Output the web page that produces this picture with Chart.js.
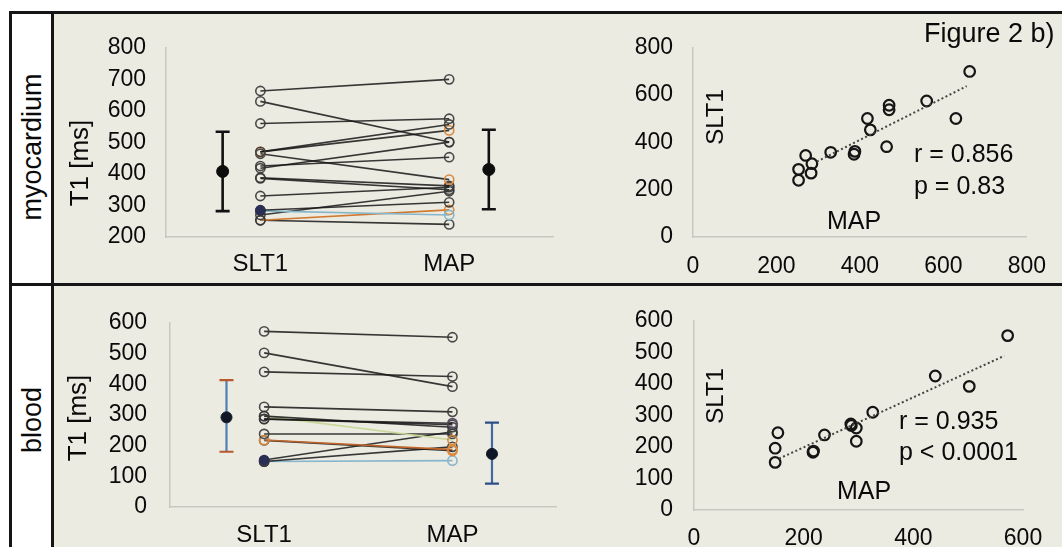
<!DOCTYPE html>
<html>
<head>
<meta charset="utf-8">
<script src="https://cdn.jsdelivr.net/npm/chart.js@4.4.1/dist/chart.umd.min.js"></script>
<style>
  body { margin: 0; width: 1062px; height: 547px; overflow: hidden; position: relative; background: #fff; font-family: "Liberation Sans", Arial, sans-serif; }
  .bg { position: absolute; left: 54px; top: 14px; right: 0; bottom: 0; background: #ecebe2; }
  .rule { position: absolute; background: #151515; }
  .rowlab { position: absolute; left: 32px; font-size: 27px; color: #0a0a0a; white-space: nowrap; transform: translate(-50%, -50%) rotate(-90deg); }
  canvas { position: absolute; }
</style>
</head>
<body>
<div class="bg"></div>
<div class="rule" style="left:9px;top:11px;width:3px;height:536px"></div>
<div class="rule" style="left:9px;top:11px;right:0;height:3px"></div>
<div class="rule" style="left:51px;top:11px;width:3px;height:536px"></div>
<div class="rule" style="left:9px;top:283px;right:0;height:3px"></div>
<div class="rowlab" style="top:147px">myocardium</div>
<div class="rowlab" style="top:420px">blood</div>

<canvas id="myoPairs" width="510" height="268" style="left:55px;top:14px"></canvas>
<canvas id="myoScatter" width="482" height="268" style="left:580px;top:14px"></canvas>
<canvas id="bloodPairs" width="510" height="261" style="left:55px;top:286px"></canvas>
<canvas id="bloodScatter" width="482" height="261" style="left:580px;top:286px"></canvas>

<script>
// values
const categories = ['SLT1', 'MAP'];
const myoTicks = [200, 300, 400, 500, 600, 700, 800];
const bloodTicks = [0, 100, 200, 300, 400, 500, 600];
const myoScatterTicks = [0, 200, 400, 600, 800];
const bloodScatterXTicks = [0, 200, 400, 600];

const myoSlt1 = [663, 630, 560, 470, 470, 464, 418, 425, 388, 386, 330, 285, 283, 270, 253, 253];
const myoMap  = [700, 501, 575, 557, 538, 382, 501, 453, 362, 350, 358, 310, 270, 345, 286, 240];
const myoMean = [408, 414];
const myoSdLow = [282, 288];
const myoSdHigh = [534, 540];
const myoTrendX = [297, 656];
const myoTrendY = [319, 638];
const myoStats = ['r = 0.856', 'p = 0.83'];

const bloodSlt1 = [572, 502, 440, 326, 286, 287, 296, 296, 238, 218, 217, 153, 148, 148];
const bloodMap  = [553, 392, 425, 310, 273, 268, 260, 218, 238, 187, 183, 245, 196, 151];
const bloodMean = [292, 173];
const bloodSdLow = [180, 76];
const bloodSdHigh = [413, 275];
const bloodTrendX = [155, 566];
const bloodTrendY = [163, 489];
const bloodStats = ['r = 0.935', 'p < 0.0001'];

// where things sit on the pair chart x axis
const catPos = [1, 2];
const meanPos = [0.8, 2.21];

const FONT = '"Liberation Sans", Arial, sans-serif';
const INK = '#0a0a0a';
const AXIS = '#c9c8c0';
const DARK = 'rgba(22,22,22,0.85)';
const PT = 'rgba(55,55,55,0.9)';
const ORANGE = '#d9893f';
const BLUE = '#86b6cc';
const NAVY = '#2b2f55';

Chart.defaults.font.family = FONT;
Chart.defaults.color = INK;

// per-pair colour overrides (index -> colour)
const myoStyle = {
    line: { 12: BLUE, 14: '#cf7a30' },
    left: { 4: ORANGE, 11: NAVY },
    leftFill: { 11: NAVY },
    right: { 4: ORANGE, 5: ORANGE, 12: BLUE, 14: ORANGE }
};
const bloodStyle = {
    line: { 7: '#c9d79a', 9: '#c0662a', 13: BLUE },
    left: { 9: ORANGE, 11: NAVY },
    leftFill: { 11: NAVY },
    right: { 4: '#5a4a6a', 7: ORANGE, 9: ORANGE, 10: ORANGE, 13: BLUE }
};

function whiskerPlugin(low, high, stem, cap, width) {
    return {
        id: 'whiskers',
        beforeDatasetsDraw(chart) {
            const { ctx, scales: { x, y } } = chart;
            ctx.save();
            ctx.lineWidth = width;
            low.forEach((lo, i) => {
                const px = x.getPixelForValue(meanPos[i]);
                const top = y.getPixelForValue(high[i]);
                const bot = y.getPixelForValue(lo);
                ctx.strokeStyle = stem[i];
                ctx.beginPath();
                ctx.moveTo(px, top);
                ctx.lineTo(px, bot);
                ctx.stroke();
                ctx.strokeStyle = cap[i];
                ctx.beginPath();
                ctx.moveTo(px - 7, top); ctx.lineTo(px + 7, top);
                ctx.moveTo(px - 7, bot); ctx.lineTo(px + 7, bot);
                ctx.stroke();
            });
            ctx.restore();
        }
    };
}

// free text: x/y are canvas pixels, y is the visual centre of capitals
function notesPlugin(notes) {
    return {
        id: 'notes',
        afterDraw(chart) {
            const ctx = chart.ctx;
            ctx.save();
            ctx.fillStyle = INK;
            ctx.textBaseline = 'alphabetic';
            notes.forEach(n => {
                ctx.save();
                ctx.font = n.size + 'px ' + FONT;
                ctx.translate(n.x, n.y);
                if (n.rotate) ctx.rotate(-Math.PI / 2);
                ctx.textAlign = n.align || 'left';
                ctx.fillText(n.text, 0, 0.36 * n.size);
                ctx.restore();
            });
            ctx.restore();
        }
    };
}

function fixedTicks(list) {
    return scale => { scale.ticks = list.map(v => ({ value: v })); };
}

function pairChart(id, slt1, map, style, yMin, yMax, ticks, box, extras) {
    const datasets = slt1.map((v, i) => ({
        type: 'line',
        data: [{ x: catPos[0], y: v }, { x: catPos[1], y: map[i] }],
        borderColor: style.line[i] || DARK,
        borderWidth: 1.6,
        pointRadius: 4.6,
        pointBorderWidth: 1.6,
        pointBorderColor: [style.left[i] || PT, style.right[i] || PT],
        pointBackgroundColor: [style.leftFill[i] || 'rgba(0,0,0,0)', 'rgba(0,0,0,0)']
    }));
    datasets.push({
        type: 'scatter',
        data: extras.mean.map((m, i) => ({ x: meanPos[i], y: m })),
        pointRadius: extras.meanRadius,
        pointBackgroundColor: extras.meanColor,
        pointBorderColor: extras.meanColor
    });

    return new Chart(document.getElementById(id), {
        data: { datasets },
        options: {
            responsive: false,
            animation: false,
            devicePixelRatio: 1,
            events: [],
            layout: { padding: { top: box.top, right: box.right, left: 0, bottom: 0 } },
            plugins: { legend: { display: false }, tooltip: { enabled: false } },
            scales: {
                x: {
                    type: 'linear', min: 0.5, max: 2.55,
                    afterBuildTicks: fixedTicks(catPos),
                    afterFit: s => { s.height = box.xh; },
                    ticks: { font: { size: 24 }, padding: box.xpad, callback: v => categories[catPos.indexOf(v)] },
                    grid: { display: false, drawTicks: false },
                    border: { color: AXIS, width: 1.5 }
                },
                y: {
                    min: yMin, max: yMax,
                    afterBuildTicks: fixedTicks(ticks),
                    afterFit: s => { s.width = box.yw; },
                    ticks: { font: { size: 23 }, padding: box.ypad },
                    grid: { display: false, drawTicks: false },
                    border: { color: AXIS, width: 1.5 }
                }
            }
        },
        plugins: [
            whiskerPlugin(extras.low, extras.high, extras.stem, extras.cap, extras.width),
            notesPlugin(extras.notes)
        ]
    });
}

function scatterChart(id, slt1, map, trendX, trendY, xMax, yMax, xTicks, yTicks, box, notes) {
    return new Chart(document.getElementById(id), {
        data: {
            datasets: [
                {
                    type: 'line',
                    data: trendX.map((v, i) => ({ x: v, y: trendY[i] })),
                    borderColor: '#444',
                    borderWidth: 2,
                    borderDash: [2, 2.5],
                    pointRadius: 0
                },
                {
                    type: 'scatter',
                    data: slt1.map((v, i) => ({ x: v, y: map[i] })),
                    pointRadius: 5.3,
                    pointBorderWidth: 2.2,
                    pointBorderColor: '#151515',
                    pointBackgroundColor: 'rgba(0,0,0,0)'
                }
            ]
        },
        options: {
            responsive: false,
            animation: false,
            devicePixelRatio: 1,
            events: [],
            layout: { padding: { top: box.top, right: box.right, left: 0, bottom: 0 } },
            plugins: { legend: { display: false }, tooltip: { enabled: false } },
            scales: {
                x: {
                    type: 'linear', min: 0, max: xMax,
                    afterBuildTicks: fixedTicks(xTicks),
                    afterFit: s => { s.height = box.xh; },
                    ticks: { font: { size: 23 }, padding: box.xpad },
                    grid: { display: false, drawTicks: false },
                    border: { color: AXIS, width: 1.5 }
                },
                y: {
                    min: 0, max: yMax,
                    afterBuildTicks: fixedTicks(yTicks),
                    afterFit: s => { s.width = box.yw; },
                    ticks: { font: { size: 23 }, padding: box.ypad },
                    grid: { display: false, drawTicks: false },
                    border: { color: AXIS, width: 1.5 }
                }
            }
        },
        plugins: [notesPlugin(notes)]
    });
}

pairChart('myoPairs', myoSlt1, myoMap, myoStyle, 200, 800, myoTicks,
    { top: 18, right: 12, xh: 45, yw: 111, xpad: 13, ypad: 20 },
    {
        mean: myoMean, low: myoSdLow, high: myoSdHigh,
        meanRadius: 6, meanColor: '#0d0d0d',
        stem: ['#111', '#111'], cap: ['#111', '#111'], width: 2.6,
        notes: [{ text: 'T1 [ms]', x: 24, y: 149, size: 26, rotate: true, align: 'center' }]
    });

pairChart('bloodPairs', bloodSlt1, bloodMap, bloodStyle, 0, 600, bloodTicks,
    { top: 15, right: 9, xh: 40, yw: 115, xpad: 14, ypad: 23 },
    {
        mean: bloodMean, low: bloodSdLow, high: bloodSdHigh,
        meanRadius: 5.5, meanColor: '#101828',
        stem: ['#4d7fb3', '#3d6aa3'], cap: ['#b8582c', '#2c4f86'], width: 2.2,
        notes: [{ text: 'T1 [ms]', x: 22, y: 132, size: 26, rotate: true, align: 'center' }]
    });

scatterChart('myoScatter', myoSlt1, myoMap, myoTrendX, myoTrendY, 800, 800, myoScatterTicks, myoScatterTicks,
    { top: 21, right: 34, xh: 45, yw: 113, xpad: 16, ypad: 20 },
    [
        { text: 'Figure 2 b)', x: 344, y: 18, size: 27 },
        { text: myoStats[0], x: 334, y: 139, size: 25 },
        { text: myoStats[1], x: 334, y: 171, size: 25 },
        { text: 'MAP', x: 274, y: 206, size: 25, align: 'center' },
        { text: 'SLT1', x: 134, y: 103, size: 24, rotate: true, align: 'center' }
    ]);

scatterChart('bloodScatter', bloodSlt1, bloodMap, bloodTrendX, bloodTrendY, 600, 600, bloodScatterXTicks, bloodTicks,
    { top: 21, right: 39, xh: 37, yw: 114, xpad: 15, ypad: 21 },
    [
        { text: bloodStats[0], x: 319, y: 134, size: 25 },
        { text: bloodStats[1], x: 319, y: 165, size: 25 },
        { text: 'MAP', x: 284, y: 204, size: 25, align: 'center' },
        { text: 'SLT1', x: 134, y: 110, size: 24, rotate: true, align: 'center' }
    ]);
</script>
</body>
</html>
